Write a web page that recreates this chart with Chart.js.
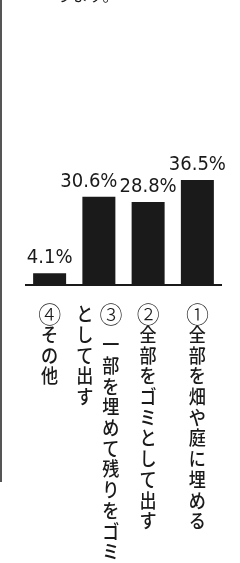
<!DOCTYPE html>
<html lang="ja">
<head>
<meta charset="utf-8">
<script src="https://cdn.jsdelivr.net/npm/chart.js@4/dist/chart.umd.min.js"></script>
<style>
  html, body { margin:0; padding:0; background:#fff; }
  #wrap { width:240px; height:563px; overflow:hidden; }
</style>
</head>
<body>
<div id="wrap"><canvas id="c" width="240" height="563"></canvas></div>
<script>
// data (left to right as printed)
const categories = ['④', '③', '②', '①'];
const values = [4.1, 30.6, 28.8, 36.5];
const valueLabels = ['4.1%', '30.6%', '28.8%', '36.5%'];
// vertical labels: each entry = columns, written right-to-left
const labelColumns = [
  ['④その他'],
  ['③ 一部を埋めて残りをゴミ', 'として出す'],
  ['②全部をゴミとして出す'],
  ['①全部を畑や庭に埋める']
];

const INK = '#1a1a1a';
const JP = '"Noto Sans CJK JP", "Noto Sans", sans-serif';
const NUM = '"Liberation Sans Narrow", "DejaVu Sans Condensed", "Noto Sans", sans-serif';
const CIRCLED = '①②③④';

// draws the frame line, baseline, value labels and vertical category text
const decor = {
  id: 'decor',
  beforeDraw(chart) {
    const ctx = chart.ctx;
    ctx.save();
    ctx.fillStyle = '#fff';
    ctx.fillRect(0, 0, chart.width, chart.height);
    // scanned page edge on the left
    ctx.fillStyle = '#555';
    ctx.fillRect(0, 0, 2, 482);
    // cut-off text at the very top
    ctx.fillStyle = INK;
    ctx.font = '16px ' + JP;
    ctx.textBaseline = 'bottom';
    ctx.textAlign = 'left';
    ctx.fillText('ります。', 56, 3);
    ctx.restore();
  },
  afterDatasetsDraw(chart) {
    const ctx = chart.ctx;
    const x = chart.scales.x, y = chart.scales.y;
    const area = chart.chartArea;
    const y0 = y.getPixelForValue(0);
    ctx.save();
    // baseline
    ctx.fillStyle = INK;
    ctx.fillRect(area.left, y0 - 1, area.right - area.left, 2);

    // value labels above bars (the tall pair is set apart as in print)
    const meta = chart.getDatasetMeta(0);
    ctx.font = '20px ' + NUM;
    ctx.textAlign = 'center';
    ctx.textBaseline = 'alphabetic';
    meta.data.forEach((bar, i) => {
      const nudge = i === 1 ? -10 : 0;
      ctx.fillText(valueLabels[i], bar.x + nudge, bar.y - 10);
    });

    // vertical category labels
    const pitch = 20.7;
    ctx.textBaseline = 'middle';
    labelColumns.forEach((cols, i) => {
      const cx = x.getPixelForTick(i);
      const n = cols.length;
      cols.forEach((col, j) => {
        // first column sits to the right
        const colX = n === 1 ? cx : cx + 12 - j * 26;
        let cy = y0 + 29;
        for (const ch of col) {
          if (ch === ' ') { cy += pitch / 2; continue; }
          ctx.save();
          ctx.translate(colX, cy);
          if (CIRCLED.includes(ch)) {
            ctx.font = '300 23px ' + JP;
          } else {
            ctx.font = '500 19px ' + JP;
            ctx.scale(0.9, 1);
          }
          ctx.fillText(ch, 0, 0);
          ctx.restore();
          cy += pitch;
        }
      });
    });
    ctx.restore();
  }
};

new Chart(document.getElementById('c'), {
  type: 'bar',
  data: {
    labels: categories,
    datasets: [{
      data: values,
      backgroundColor: INK,
      borderWidth: 0,
      barPercentage: 0.67,
      categoryPercentage: 1
    }]
  },
  options: {
    responsive: false,
    animation: false,
    devicePixelRatio: 1,
    layout: { padding: { left: 25, right: 18, top: 141, bottom: 278 } },
    plugins: { legend: { display: false }, tooltip: { enabled: false } },
    scales: {
      x: { display: false },
      y: { display: false, min: 0, max: 50 }
    }
  },
  plugins: [decor]
});
</script>
</body>
</html>
